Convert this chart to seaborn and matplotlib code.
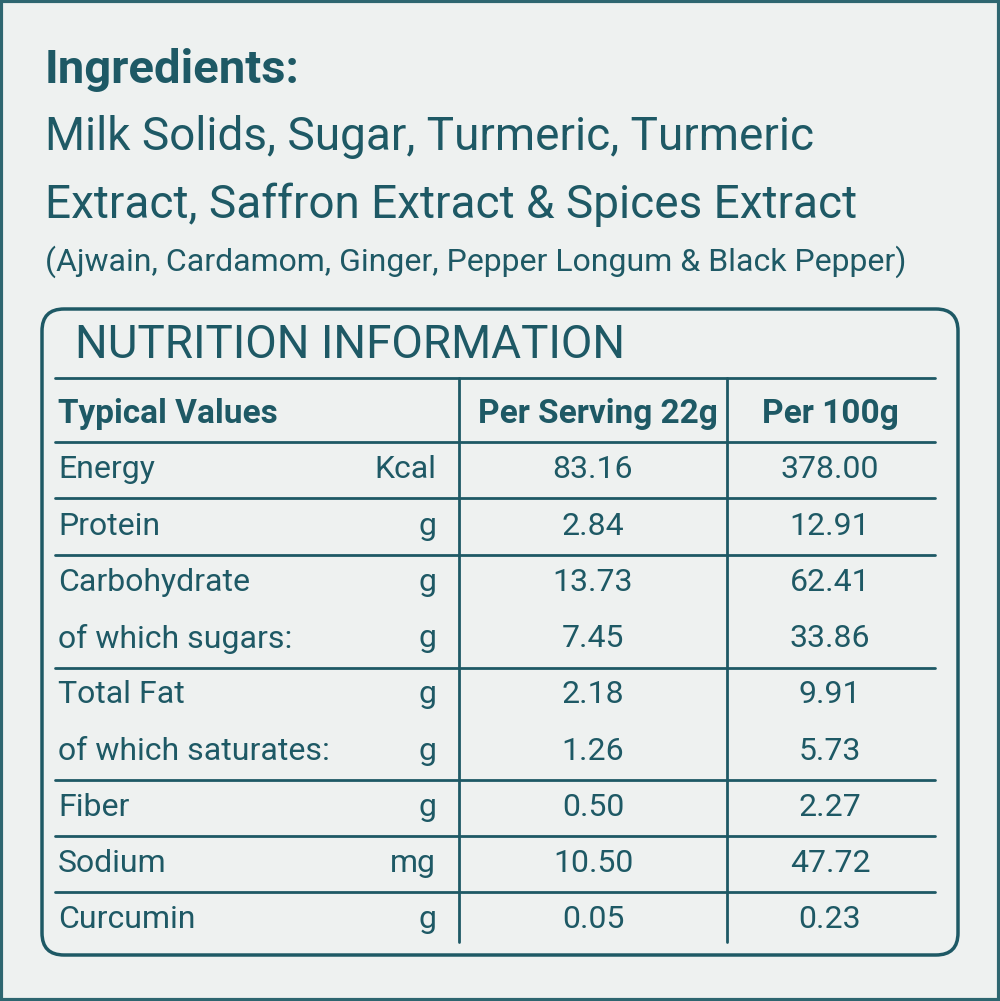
import seaborn as sns
import matplotlib.pyplot as plt
from matplotlib.patches import FancyBboxPatch, Rectangle

nutrients = ['Energy', 'Protein', 'Carbohydrate', 'of which sugars:', 'Total Fat',
             'of which saturates:', 'Fiber', 'Sodium', 'Curcumin']
units = ['Kcal', 'g', 'g', 'g', 'g', 'g', 'g', 'mg', 'g']
per_serving = ['83.16', '2.84', '13.73', '7.45', '2.18', '1.26', '0.50', '10.50', '0.05']
per_100g = ['378.00', '12.91', '62.41', '33.86', '9.91', '5.73', '2.27', '47.72', '0.23']
headers = ['Typical Values', 'Per Serving 22g', 'Per 100g']
ingredients_lines = ['Milk Solids, Sugar, Turmeric, Turmeric',
                     'Extract, Saffron Extract & Spices Extract']
spices_line = '(Ajwain, Cardamom, Ginger, Pepper Longum & Black Pepper)'

sns.set_theme(style='white')
plt.rcParams['font.family'] = ['Liberation Sans Narrow', 'Roboto', 'DejaVu Sans']

teal = '#1e5965'
bg = '#eef1f0'

fig = plt.figure(figsize=(10, 10.01), dpi=100)
fig.patch.set_facecolor(bg)
ax = fig.add_axes([0, 0, 1, 1])
ax.set_xlim(0, 1000)
ax.set_ylim(1001, 0)
ax.axis('off')

# outer border
ax.add_patch(Rectangle((1, 1), 998, 999, fill=False, ec='#2e6670', lw=3))

ax.text(45, 70, 'Ingredients:', color=teal, fontsize=34, fontweight='bold', va='center')
for i, line in enumerate(ingredients_lines):
    ax.text(45, 137 + i * 68, line, color=teal, fontsize=33, va='center')
ax.text(45, 262, spices_line, color=teal, fontsize=23, va='center')

# table box
ax.add_patch(FancyBboxPatch((42, 309), 916, 646, boxstyle='round,pad=0,rounding_size=22',
                            fill=False, ec=teal, lw=2.5))
ax.text(75, 345, 'NUTRITION INFORMATION', color=teal, fontsize=33, va='center')

ax.plot([55, 935], [378, 378], color=teal, lw=2)
for x in [459, 727]:
    ax.plot([x, x], [378, 942], color=teal, lw=2)
for y in [442, 498, 555, 668, 780, 836, 892]:
    ax.plot([55, 935], [y, y], color=teal, lw=2)

hy = 414
ax.text(58, hy, headers[0], color=teal, fontsize=24, fontweight='bold', va='center')
ax.text(598, hy, headers[1], color=teal, fontsize=24, fontweight='bold', va='center', ha='center')
ax.text(830, hy, headers[2], color=teal, fontsize=24, fontweight='bold', va='center', ha='center')

for i, (n, u, s, p) in enumerate(zip(nutrients, units, per_serving, per_100g)):
    y = 470 + i * 56.2
    ax.text(58, y, n, color=teal, fontsize=23, va='center')
    ax.text(436, y, u, color=teal, fontsize=23, va='center', ha='right')
    ax.text(593, y, s, color=teal, fontsize=23, va='center', ha='center')
    ax.text(830, y, p, color=teal, fontsize=23, va='center', ha='center')

fig.savefig('out.png', dpi=100, facecolor=bg)
